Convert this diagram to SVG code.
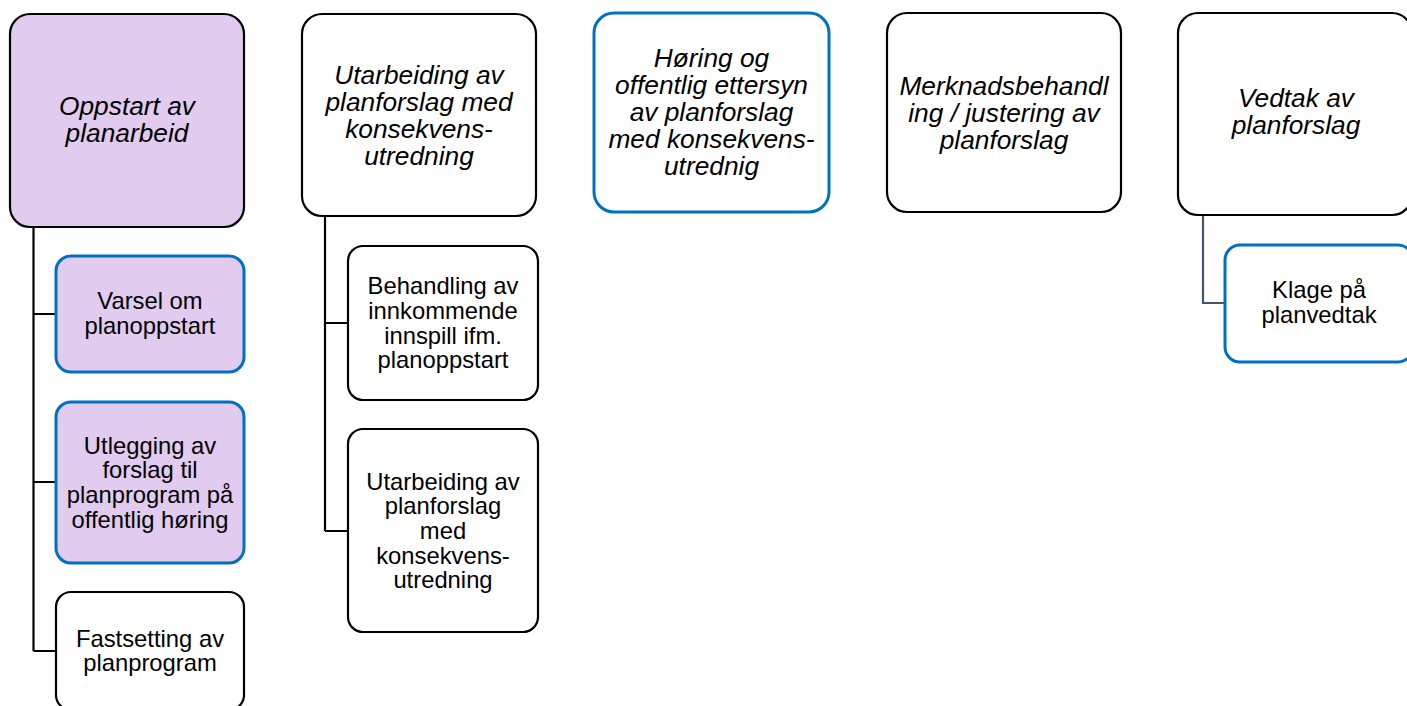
<svg xmlns="http://www.w3.org/2000/svg" width="1407" height="706" viewBox="0 0 1407 706">
<style>
.box{fill:#ffffff;stroke:#000000;stroke-width:2.2}
.purple{fill:#E1CBEF}
.blue{stroke:#0070C0;stroke-width:3}
.t1{font-family:"Liberation Sans",Arial,sans-serif;font-size:26.3px;font-style:italic;fill:#000;text-anchor:middle}
.t2{font-family:"Liberation Sans",Arial,sans-serif;font-size:23.8px;fill:#000;text-anchor:middle}
.conn{fill:none;stroke:#000;stroke-width:2.2}
.conn2{fill:none;stroke:#44546A;stroke-width:2.2}
</style>
<rect width="1407" height="706" fill="#ffffff"/>
<g id="connectors">
<path class="conn" d="M33.5,227 V651 M33.5,314 H56 M33.5,482 H56 M33.5,651 H56"/>
<path class="conn" d="M325,216 V531 M325,323 H348 M325,531 H348"/>
<path class="conn2" d="M1203,215 V303 H1225"/>
</g>
<g id="n-oppstart">
<rect class="box purple" x="10" y="14" width="234" height="213" rx="20"/>
<text class="t1"><tspan x="127" y="115">Oppstart av</tspan><tspan x="127" y="142">planarbeid</tspan></text>
</g>
<g id="n-varsel">
<rect class="box purple blue" x="56" y="256" width="188" height="116" rx="15"/>
<text class="t2"><tspan x="150" y="309">Varsel om</tspan><tspan x="150" y="334">planoppstart</tspan></text>
</g>
<g id="n-utlegging">
<rect class="box purple blue" x="56" y="402" width="188" height="161" rx="15"/>
<text class="t2"><tspan x="150" y="454">Utlegging av</tspan><tspan x="150" y="478">forslag til</tspan><tspan x="150" y="503">planprogram på</tspan><tspan x="150" y="528">offentlig høring</tspan></text>
</g>
<g id="n-fastsetting">
<rect class="box" x="56" y="592" width="188" height="118" rx="15"/>
<text class="t2"><tspan x="150" y="647">Fastsetting av</tspan><tspan x="150" y="671">planprogram</tspan></text>
</g>
<g id="n-utarbeiding">
<rect class="box" x="302" y="14" width="234" height="202" rx="20"/>
<text class="t1"><tspan x="419" y="84">Utarbeiding av</tspan><tspan x="419" y="111">planforslag med</tspan><tspan x="419" y="138">konsekvens-</tspan><tspan x="419" y="165">utredning</tspan></text>
</g>
<g id="n-behandling">
<rect class="box" x="348" y="246" width="190" height="154" rx="15"/>
<text class="t2"><tspan x="443" y="294">Behandling av</tspan><tspan x="443" y="319">innkommende</tspan><tspan x="443" y="344">innspill ifm.</tspan><tspan x="443" y="368">planoppstart</tspan></text>
</g>
<g id="n-utarbeiding2">
<rect class="box" x="348" y="429" width="190" height="203" rx="15"/>
<text class="t2"><tspan x="443" y="490">Utarbeiding av</tspan><tspan x="443" y="514">planforslag</tspan><tspan x="443" y="539">med</tspan><tspan x="443" y="564">konsekvens-</tspan><tspan x="443" y="588">utredning</tspan></text>
</g>
<g id="n-horing">
<rect class="box blue" x="594" y="13" width="235" height="199" rx="20"/>
<text class="t1"><tspan x="711.5" y="67">Høring og</tspan><tspan x="711.5" y="94">offentlig ettersyn</tspan><tspan x="711.5" y="121">av planforslag</tspan><tspan x="711.5" y="148">med konsekvens-</tspan><tspan x="711.5" y="175">utrednig</tspan></text>
</g>
<g id="n-merknad">
<rect class="box" x="887" y="13" width="234" height="199" rx="20"/>
<text class="t1"><tspan x="1004" y="95">Merknadsbehandl</tspan><tspan x="1004" y="122">ing / justering av</tspan><tspan x="1004" y="149">planforslag</tspan></text>
</g>
<g id="n-vedtak">
<rect class="box" x="1178" y="13" width="234" height="202" rx="20"/>
<text class="t1"><tspan x="1296" y="107">Vedtak av</tspan><tspan x="1296" y="134">planforslag</tspan></text>
</g>
<g id="n-klage">
<rect class="box blue" x="1225" y="245" width="188" height="117" rx="15"/>
<text class="t2"><tspan x="1319" y="298">Klage på</tspan><tspan x="1319" y="323">planvedtak</tspan></text>
</g>
</svg>
